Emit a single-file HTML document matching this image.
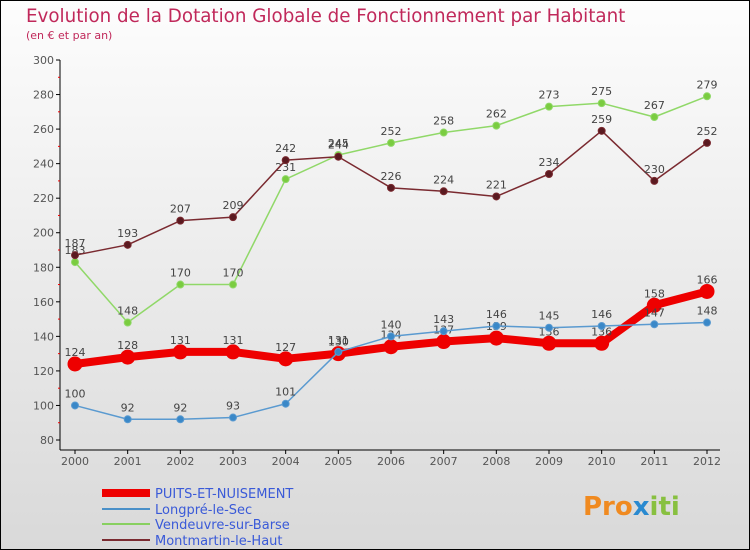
<!DOCTYPE html>
<html><head><meta charset="utf-8"><style>
body{margin:0}
#c{width:750px;height:550px;position:relative;overflow:hidden;font-family:"DejaVu Sans","Liberation Sans",sans-serif}
</style></head><body>
<div id="c">
<svg id="s" width="750" height="550" xmlns="http://www.w3.org/2000/svg">
<defs><linearGradient id="bg" x1="0" y1="0" x2="0" y2="1"><stop offset="0" stop-color="#fdfdfd"/><stop offset="1" stop-color="#d9d9d9"/></linearGradient></defs>
<rect x="0.5" y="0.5" width="749" height="549" fill="url(#bg)" stroke="#000"/>
<text x="26" y="22" font-size="18.3" fill="#c0285a">Evolution de la Dotation Globale de Fonctionnement par Habitant</text>
<text x="26" y="39" font-size="11" fill="#c0285a">(en € et par an)</text>
<g id="axes"></g><g id="series"></g>
<g>
<line x1="102" y1="493" x2="150" y2="493" stroke="#e00" stroke-width="8"/>
<text x="155" y="498" font-size="13" fill="#3a5ad8">PUITS-ET-NUISEMENT</text>
<line x1="102" y1="509" x2="150" y2="509" stroke="#4a90c8" stroke-width="2"/>
<text x="155" y="514" font-size="13" fill="#3a5ad8">Longpré-le-Sec</text>
<line x1="102" y1="524" x2="150" y2="524" stroke="#88d060" stroke-width="2"/>
<text x="155" y="529" font-size="13" fill="#3a5ad8">Vendeuvre-sur-Barse</text>
<line x1="102" y1="540" x2="150" y2="540" stroke="#7a2a30" stroke-width="2"/>
<text x="155" y="545" font-size="13" fill="#3a5ad8">Montmartin-le-Haut</text>
</g>
<text x="583" y="515" font-size="26" font-weight="bold" fill="#f08a20">Pro<tspan fill="#2a8ad0">x</tspan><tspan fill="#88c040">iti</tspan></text>
</svg>
</div>
<script>
const years=[2000,2001,2002,2003,2004,2005,2006,2007,2008,2009,2010,2011,2012];
const yTicks=[80,100,120,140,160,180,200,220,240,260,280,300];
const puits=[124,128,131,131,127,130,134,137,139,136,136,158,166];
const longpre=[100,92,92,93,101,131,140,143,146,145,146,147,148];
const vendeuvre=[183,148,170,170,231,245,252,258,262,273,275,267,279];
const montmartin=[187,193,207,209,242,244,226,224,221,234,259,230,252];
const NS="http://www.w3.org/2000/svg";
const X=i=>75+i*(707-75)/12;
const Y=v=>440-(v-80)*(380/220);
function mk(tag,at,parent,txt){const e=document.createElementNS(NS,tag);for(const k in at)e.setAttribute(k,at[k]);if(txt!==undefined)e.textContent=txt;parent.appendChild(e);return e;}
const ax=document.getElementById('axes');
let l=mk('line',{x1:60,y1:60,x2:60,y2:450,stroke:'#000'},ax);


l=mk('line',{x1:60,y1:450,x2:720,y2:450,stroke:'#000'},ax);


yTicks.forEach(v=>{
 mk('line',{x1:56,y1:Y(v),x2:60,y2:Y(v),stroke:'#000'},ax);
 if(v<300)mk('line',{x1:58,y1:Y(v+10),x2:60,y2:Y(v+10),stroke:'#e00'},ax);
 const t=mk('text',{x:54,y:Y(v)+4,'font-size':11,fill:'#555','text-anchor':'end'},ax,v);
 
 
});
years.forEach((y,i)=>{
 mk('line',{x1:X(i),y1:450,x2:X(i),y2:454,stroke:'#000'},ax);
 const t=mk('text',{x:X(i),y:465,'font-size':11,fill:'#555','text-anchor':'middle'},ax,y);
 
 
});
const sg=document.getElementById('series');
function draw(data,color,w,r,name,dot){
 const g=mk('g',{},sg);
 
 
 const p=mk('polyline',{points:data.map((v,i)=>X(i)+','+Y(v)).join(' '),fill:'none',stroke:color,'stroke-width':w,'stroke-linejoin':'round'},g);
 
 
 data.forEach((v,i)=>{
  const c=mk('circle',{cx:X(i),cy:Y(v),r:r,fill:dot,stroke:color,'stroke-width':1},g);
  
  
  const t=mk('text',{x:X(i),y:Y(v)-8,'font-size':11,fill:'#444','text-anchor':'middle'},g,v);
  
  
 });
}
draw(vendeuvre,'#90d868',1.5,3.5,'vendeuvre-series','#7acc40');
draw(montmartin,'#7a2a30',1.5,3.5,'montmartin-series','#5a1a20');
draw(puits,'#ee0000',8,7,'puits-series','#ee0000');
draw(longpre,'#5a9ad0',1.5,3.5,'longpre-series','#3a88c8');
</script>
</body></html>
